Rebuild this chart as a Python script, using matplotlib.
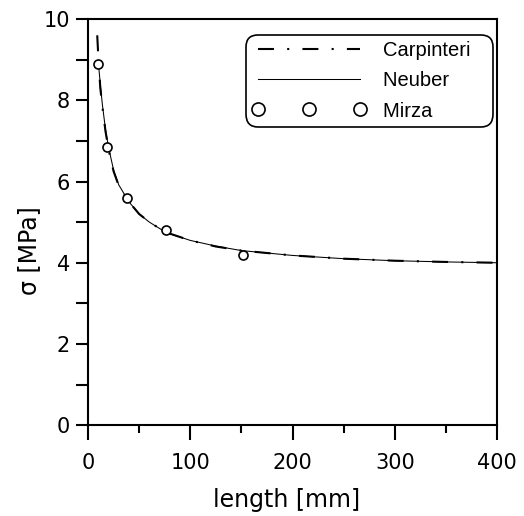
import matplotlib
matplotlib.use("Agg")
import matplotlib.pyplot as plt
from matplotlib.ticker import MultipleLocator

plt.rcParams['lines.scale_dashes'] = False

# Carpinteri (dash-dot) curve
carp_len = [9, 10, 12, 14, 17, 20, 25, 30, 40, 50, 60, 76, 100, 125, 150, 200, 250, 300, 350, 400]
carp_sig = [9.6, 9.1, 8.3, 7.85, 7.25, 6.8, 6.25, 5.9, 5.5, 5.2, 5.0, 4.75, 4.55, 4.4, 4.3, 4.18, 4.1, 4.05, 4.02, 4.0]

# Neuber (solid) curve
neub_len = [10, 12, 14, 17, 20, 25, 30, 40, 50, 60, 76, 100, 125, 150, 200, 250, 300, 350, 400]
neub_sig = [8.95, 8.4, 7.9, 7.3, 6.85, 6.28, 5.92, 5.5, 5.2, 5.0, 4.75, 4.55, 4.41, 4.3, 4.18, 4.1, 4.05, 4.02, 4.0]

# Mirza test data
mirza_len = [9.5, 19, 38, 76, 152]
mirza_sig = [8.9, 6.85, 5.6, 4.8, 4.18]

fig = plt.figure(figsize=(5.24, 5.16), dpi=100)
ax = fig.add_axes([0.168, 0.176, 0.7805, 0.787])

ax.plot(carp_len, carp_sig, color='black', lw=1.5,
        linestyle=(0, (11.5, 9.5, 1.5, 9.5)), label='Carpinteri')
ax.plot(neub_len, neub_sig, color='black', lw=0.75, label='Neuber')
ax.plot(mirza_len, mirza_sig, linestyle='none', marker='o', ms=6.5,
        mfc='white', mec='black', mew=1.2, label='Mirza')

ax.set_xlim(0, 400)
ax.set_ylim(0, 10)
ax.xaxis.set_major_locator(MultipleLocator(100))
ax.xaxis.set_minor_locator(MultipleLocator(50))
ax.yaxis.set_major_locator(MultipleLocator(2))
ax.yaxis.set_minor_locator(MultipleLocator(1))

for s in ['top', 'right', 'left', 'bottom']:
    ax.spines[s].set_linewidth(1.5)

ax.tick_params(axis='x', which='major', direction='out', length=11, width=1.5,
               labelsize=15, pad=9)
ax.tick_params(axis='x', which='minor', direction='out', length=5.5, width=1.5)
ax.tick_params(axis='y', which='both', direction='out', length=9, width=1.5,
               labelsize=15, pad=4)

ax.set_xlabel('length [mm]', fontsize=17)
ax.set_ylabel('σ [MPa]', fontsize=17)
ax.yaxis.set_label_coords(-0.115, 0.43)
ax.xaxis.set_label_coords(0.485, -0.155)

leg = ax.legend(loc='upper right', bbox_to_anchor=(0.99, 0.961),
                prop={'family': 'Liberation Sans', 'size': 14.5},
                numpoints=3, markerscale=1.45, handlelength=5.7,
                handletextpad=0.8, labelspacing=0.56, borderpad=0.3,
                borderaxespad=0, fancybox=True, framealpha=1)
for t in leg.get_texts():
    t.set_text(t.get_text() + '   ')
leg.get_frame().set_boxstyle('round,pad=0,rounding_size=0.6')
leg.get_frame().set_edgecolor('black')
leg.get_frame().set_linewidth(1.2)

fig.savefig('out.png', dpi=100)
